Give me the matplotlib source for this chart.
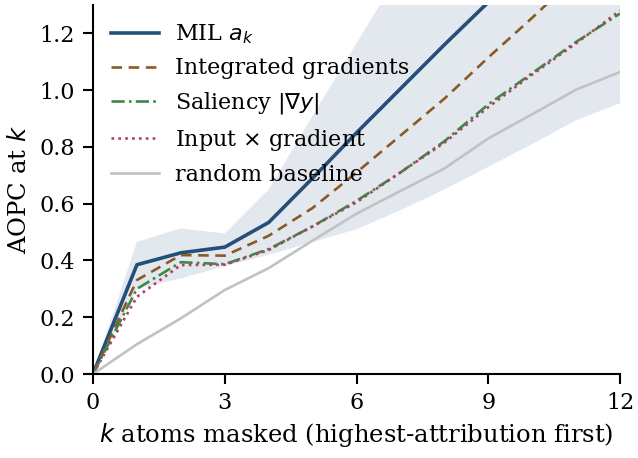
import matplotlib
matplotlib.use("Agg")
import matplotlib.pyplot as plt
import numpy as np

k = list(range(13))
mil = [0.0, 0.385, 0.427, 0.447, 0.534, 0.69, 0.85, 1.005, 1.16, 1.31, 1.46, 1.61, 1.76]
mil_lo = [0.0, 0.30, 0.337, 0.38, 0.42, 0.465, 0.51, 0.577, 0.65, 0.73, 0.81, 0.894, 0.954]
mil_hi = [0.0, 0.466, 0.513, 0.495, 0.65, 0.91, 1.165, 1.42, 1.67, 1.92, 2.17, 2.42, 2.67]
ig = [0.0, 0.331, 0.419, 0.417, 0.487, 0.585, 0.71, 0.84, 0.97, 1.115, 1.255, 1.40, 1.55]
sal = [0.0, 0.300, 0.394, 0.387, 0.440, 0.52, 0.61, 0.71, 0.82, 0.95, 1.06, 1.17, 1.27]
ixg = [0.0, 0.272, 0.384, 0.385, 0.437, 0.52, 0.605, 0.71, 0.815, 0.94, 1.055, 1.165, 1.28]
rnd = [0.0, 0.105, 0.196, 0.296, 0.373, 0.47, 0.565, 0.645, 0.724, 0.83, 0.915, 1.002, 1.064]

plt.rcParams['font.family'] = ['DejaVu Serif']
plt.rcParams['font.size'] = 16

fig, ax = plt.subplots(figsize=(6.38, 4.58), dpi=100)
ax.fill_between(k, mil_lo, mil_hi, color='#e3e8ef', linewidth=0)
ax.plot(k, mil, color='#234f78', lw=2.6, label='MIL $a_k$')
ax.plot(k, ig, color='#8a5a26', lw=1.9, ls=(0, (4, 2.5)), label='Integrated gradients')
ax.plot(k, sal, color='#3a8a48', lw=1.9, ls=(0, (5, 1.6, 1, 1.6)), label=r'Saliency $|\nabla y|$')
ax.plot(k, ixg, color='#b0405e', lw=1.9, ls=(0, (1, 1.6)), label=r'Input $\times$ gradient')
ax.plot(k, rnd, color='#c2c2c2', lw=1.9, label='random baseline')

ax.set_xlim(0, 12)
ax.set_ylim(0, 1.3)
ax.set_xticks([0, 3, 6, 9, 12])
ax.set_yticks([0.0, 0.2, 0.4, 0.6, 0.8, 1.0, 1.2])
ax.set_xlabel('$k$ atoms masked (highest-attribution first)', fontsize=17.5, labelpad=5)
ax.set_ylabel('AOPC at $k$', fontsize=17.5, labelpad=6)
for s in ['top', 'right']:
    ax.spines[s].set_visible(False)
for s in ['left', 'bottom']:
    ax.spines[s].set_linewidth(1.5)
ax.tick_params(width=1.5, length=7, labelsize=16, pad=6)
ax.legend(loc='upper left', frameon=False, fontsize=16, handlelength=2.16,
          handletextpad=0.75, labelspacing=0.49, borderaxespad=0.4)
fig.subplots_adjust(left=0.1458, right=0.9718, bottom=0.1834, top=0.989)
fig.savefig('out.png', dpi=100)
